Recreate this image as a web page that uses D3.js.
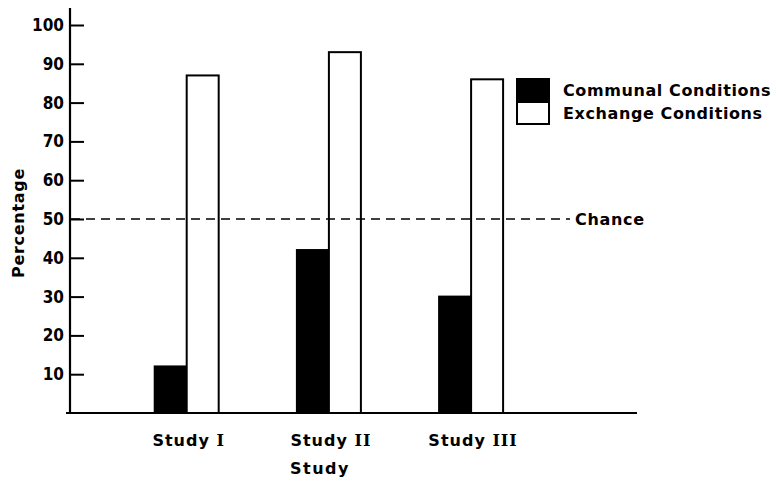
<!DOCTYPE html>
<html><head><meta charset="utf-8">
<script src="https://cdn.jsdelivr.net/npm/d3@7/dist/d3.min.js"></script>
<style>
body{margin:0;background:#fff;}
text{font-family:"DejaVu Sans",sans-serif;font-weight:700;fill:#000;}
</style></head>
<body><svg id="c" width="776" height="484"></svg>
<script>
const categories = ["Study I", "Study II", "Study III"];
const numerals = ["I", "II", "III"];
const seriesNames = ["Communal Conditions", "Exchange Conditions"];
const communal = [12, 42, 30];
const exchange = [87, 93, 86];
const yTicks = [10, 20, 30, 40, 50, 60, 70, 80, 90, 100];
const chanceValue = 50;

const svg = d3.select("#c");
const y = d3.scaleLinear().domain([0, 100]).range([413, 25]);
const x0 = d3.scaleBand().domain(categories).range([115.6, 542.2]).paddingInner(0.55).paddingOuter(0.275);
const x1 = d3.scaleBand().domain(seriesNames).range([0, x0.bandwidth()]);
const colors = {"Communal Conditions": "#000", "Exchange Conditions": "#fff"};

// bars
const data = categories.map((c, i) => ({cat: c, vals: [
  {s: seriesNames[0], v: communal[i]}, {s: seriesNames[1], v: exchange[i]}]}));
const g = svg.append("g");
g.selectAll("g.grp").data(data).join("g")
  .attr("transform", d => `translate(${x0(d.cat)},0)`)
  .selectAll("rect").data(d => d.vals).join("rect")
  .attr("x", d => x1(d.s)).attr("width", x1.bandwidth())
  .attr("y", d => y(d.v)).attr("height", d => y(0) - y(d.v))
  .attr("fill", d => colors[d.s]).attr("stroke", "#000").attr("stroke-width", 2);

// chance line
svg.append("line").attr("x1", 71).attr("x2", 570)
  .attr("y1", y(chanceValue)).attr("y2", y(chanceValue))
  .attr("stroke", "#000").attr("stroke-width", 1.6).attr("stroke-dasharray", "9,6");
svg.append("text").attr("x", 575).attr("y", y(chanceValue)).attr("dy", "0.35em")
  .style("font-size", "16px").style("letter-spacing", "0.7px").text("Chance");

// y axis
const yAxis = d3.axisLeft(y).tickValues(yTicks).tickSizeInner(-14).tickSizeOuter(0).tickPadding(6);
const ya = svg.append("g").attr("transform", "translate(70,0)").call(yAxis);
ya.select(".domain").remove();
ya.selectAll(".tick line").attr("stroke", "#000").attr("stroke-width", 2);
ya.selectAll(".tick text").style("font-size", "17px").style("font-family", "'DejaVu Sans Condensed', 'DejaVu Sans', sans-serif").style("font-weight", 700).attr("fill", "#000");
svg.append("line").attr("x1", 70).attr("x2", 70).attr("y1", 8).attr("y2", y(0) + 1)
  .attr("stroke", "#000").attr("stroke-width", 2.2);
// x axis baseline
svg.append("line").attr("x1", 66).attr("x2", 637).attr("y1", y(0)).attr("y2", y(0))
  .attr("stroke", "#000").attr("stroke-width", 2);

// x labels
svg.selectAll("text.xl").data(categories).join("text").attr("class", "xl")
  .attr("x", d => x0(d) + x0.bandwidth() / 2 + 2).attr("y", 446)
  .attr("text-anchor", "middle").style("font-size", "16px").style("letter-spacing", "1px")
  .each(function(d, i) {
    const t = d3.select(this);
    t.append("tspan").text("Study ");
    t.append("tspan").style("font-family", "'DejaVu Serif', serif").style("font-weight", 700).text(numerals[i]);
  });
svg.append("text").attr("x", 320).attr("y", 474).attr("text-anchor", "middle")
  .style("font-size", "16px").style("letter-spacing", "1.5px").text("Study");
svg.append("text").attr("transform", "translate(24,223) rotate(-90)").attr("text-anchor", "middle")
  .style("font-size", "16px").style("letter-spacing", "0.7px").text("Percentage");

// legend
const leg = svg.append("g").attr("transform", "translate(517,79)");
seriesNames.forEach((s, i) => {
  leg.append("rect").attr("x", 0).attr("y", i * 23).attr("width", 32).attr("height", 22)
    .attr("fill", colors[s]).attr("stroke", "#000").attr("stroke-width", 2);
  leg.append("text").attr("x", 46).attr("y", i * 23 + 11).attr("dy", "0.35em")
    .style("font-size", "16px").style("letter-spacing", "0.6px").text(s);
});
</script></body></html>
